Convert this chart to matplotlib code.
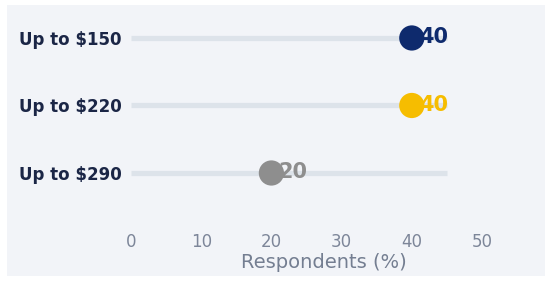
import matplotlib.pyplot as plt
from matplotlib.patches import Rectangle

# data
categories = ['Up to $150', 'Up to $220', 'Up to $290']
values = [40, 40, 20]
track_max = 45
dot_colors = ['#0e2a6d', '#f6bd00', '#8e8e8e']
xticks = [0, 10, 20, 30, 40, 50]

W, H = 550, 285
fig = plt.figure(figsize=(W / 100, H / 100), dpi=100, facecolor='white')

# light panel behind the chart (below the axes)
fig.patches.append(Rectangle((7 / W, (H - 276) / H), (545 - 7) / W, (276 - 5) / H,
                             transform=fig.transFigure, facecolor='#f2f4f8',
                             edgecolor='none', zorder=-10))

# axes placed so that 0 sits at x=131 and 50 at x=482
px_per_unit = (482 - 131) / 50
xmax = 55
top_px, bot_px = 7.6, 227
ax = fig.add_axes([131 / W, (H - bot_px) / H, xmax * px_per_unit / W, (bot_px - top_px) / H])
ax.set_facecolor('none')

ypos = list(range(len(categories)))
for y, v, c in zip(ypos, values, dot_colors):
    ax.plot([0, track_max], [y, y], color='#dde3ea', lw=3.8, solid_capstyle='butt', zorder=1)
    # value label sits partly under the dot, like the reference
    ax.annotate(str(v), (v, y), xytext=(5, 0.5), textcoords='offset points',
                color=c, fontsize=15, fontweight='bold', va='center', ha='left', zorder=2)
    ax.scatter([v], [y], s=330, color=c, zorder=3, edgecolors='none')

ax.set_xlim(0, xmax)
ax.set_ylim(2.8, -0.45)
ax.set_yticks(ypos)
ax.set_yticklabels(categories, fontsize=12, fontweight='bold', color='#1b2646')
ax.set_xticks(xticks)
ax.tick_params(axis='both', length=0)
ax.tick_params(axis='y', pad=7)
ax.tick_params(axis='x', pad=4, labelsize=12, labelcolor='#7d8699')
ax.set_xlabel('Respondents (%)', fontsize=14, color='#747e91', labelpad=2)
for s in ax.spines.values():
    s.set_visible(False)

fig.savefig('out.png', dpi=100, facecolor='white')
